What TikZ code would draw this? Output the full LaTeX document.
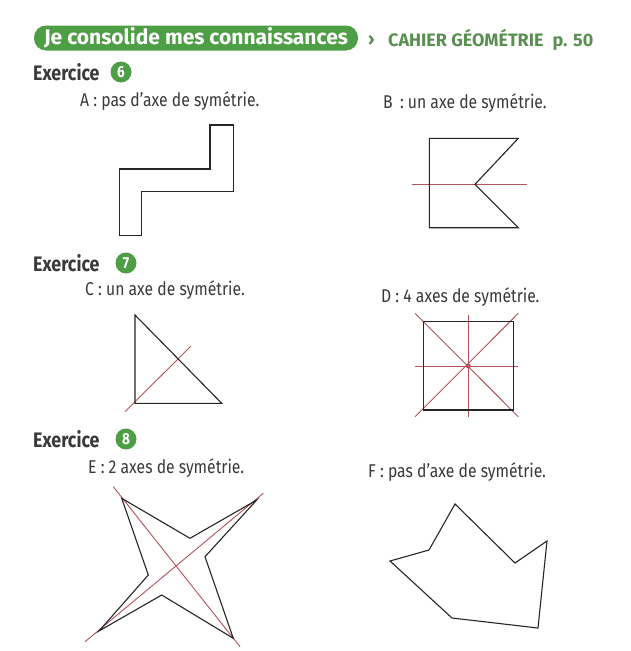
\documentclass[tikz,border=0pt]{standalone}
\usepackage{fontspec}
\setmainfont{Fira Sans}[FakeStretch=0.85]
\newfontfamily\widefont{Fira Sans}
\definecolor{pill}{HTML}{4E9E45}
\definecolor{ink}{HTML}{3A3A3A}
\definecolor{axis}{HTML}{B5525A}
\definecolor{hdr}{HTML}{5A8F52}
\tikzset{
  lbl/.style={anchor=west, inner sep=0pt, text=ink, font=\fontsize{18.5}{18.5}\selectfont},
  exo/.style={anchor=west, inner sep=0pt, text=ink, font=\fontsize{21}{21}\selectfont\bfseries},
  num/.style={circle, fill=pill, text=white, inner sep=0pt, minimum size=21pt, font=\fontsize{16}{16}\selectfont\bfseries},
  figline/.style={draw=black!85, line width=1.1pt, line join=miter},
  ax/.style={draw=axis, line width=0.9pt}
}
\begin{document}
\begin{tikzpicture}[x=1pt,y=-1pt]
\useasboundingbox (0,0) rectangle (630,651);
\fill[white] (0,0) rectangle (630,651);
% header
\node[fill=pill, rounded corners=12pt, minimum height=25pt, minimum width=324pt, inner xsep=6pt, inner ysep=0pt, text=white, font=\widefont\fontsize{21}{21}\selectfont\bfseries] (pill) at (196,38) {Je consolide mes connaissances};
\node[anchor=west, inner sep=0pt, text=hdr, font=\widefont\fontsize{18}{18}\selectfont\bfseries] (arr) at (368,40) {›};
\node[anchor=west, inner sep=0pt, text=hdr, font=\widefont\fontsize{18}{18}\selectfont\bfseries] (cahier) at (388,40) {CAHIER GÉOMÉTRIE\enspace p. 50};
% Exercice 6
\node[exo] (ex6) at (33,72) {Exercice};
\node[num] (n6) at (121,72) {6};
\node[lbl] (la) at (80,101) {A : pas d'axe de symétrie.};
\node[lbl] (lb) at (383,103) {B\, : un axe de symétrie.};
% shape A
\draw[figline] (119.3,235.7) -- (119.3,169) -- (210,169) -- (210,125) -- (233.3,125) -- (233.3,191.7) -- (141.7,191.7) -- (141.7,235.7) -- cycle;
% shape B
\draw[ax] (411.7,184.3) -- (526.7,184.3);
\draw[figline] (518.3,138.3) -- (429.3,138.3) -- (429.3,227.7) -- (518.3,227.7) -- (475,184.3) -- cycle;
% Exercice 7
\node[exo] (ex7) at (33,263) {Exercice};
\node[num] (n7) at (126,263) {7};
\node[lbl] (lc) at (85,290) {C : un axe de symétrie.};
\node[lbl] (ld) at (381,297) {D : 4 axes de symétrie.};
% shape C
\draw[ax] (125,411.7) -- (191,346);
\draw[figline] (135,315) -- (135,403.3) -- (221.7,403.3) -- cycle;
% shape D
\draw[ax] (468.3,315) -- (468.3,416.7);
\draw[ax] (415,366) -- (518.3,366);
\draw[ax] (415,313.3) -- (518.3,416.7);
\draw[ax] (518.3,313.3) -- (415,416.7);
\draw[figline] (423.3,321.7) rectangle (513.3,410);
\fill[axis] (468.3,366) circle (2.5pt);
% Exercice 8
\node[exo] (ex8) at (33,439) {Exercice};
\node[num] (n8) at (126,439) {8};
\node[lbl] (le) at (88,468) {E : 2 axes de symétrie.};
\node[lbl] (lf) at (368,472) {F : pas d'axe de symétrie.};
% shape E
\draw[ax] (113.3,486.7) -- (240,646.7);
\draw[ax] (263.3,493.3) -- (85,641.7);
\draw[figline] (121.7,498.3) -- (190,538.3) -- (256.7,500) -- (205,556.7) -- (233.3,638.3) -- (161.7,595) -- (99,631) -- (148.3,575) -- cycle;
% shape F
\draw[figline] (455,504) -- (515,563) -- (547,541) -- (538,628) -- (452,618) -- (390,561) -- (429,550) -- cycle;
\end{tikzpicture}
\end{document}
